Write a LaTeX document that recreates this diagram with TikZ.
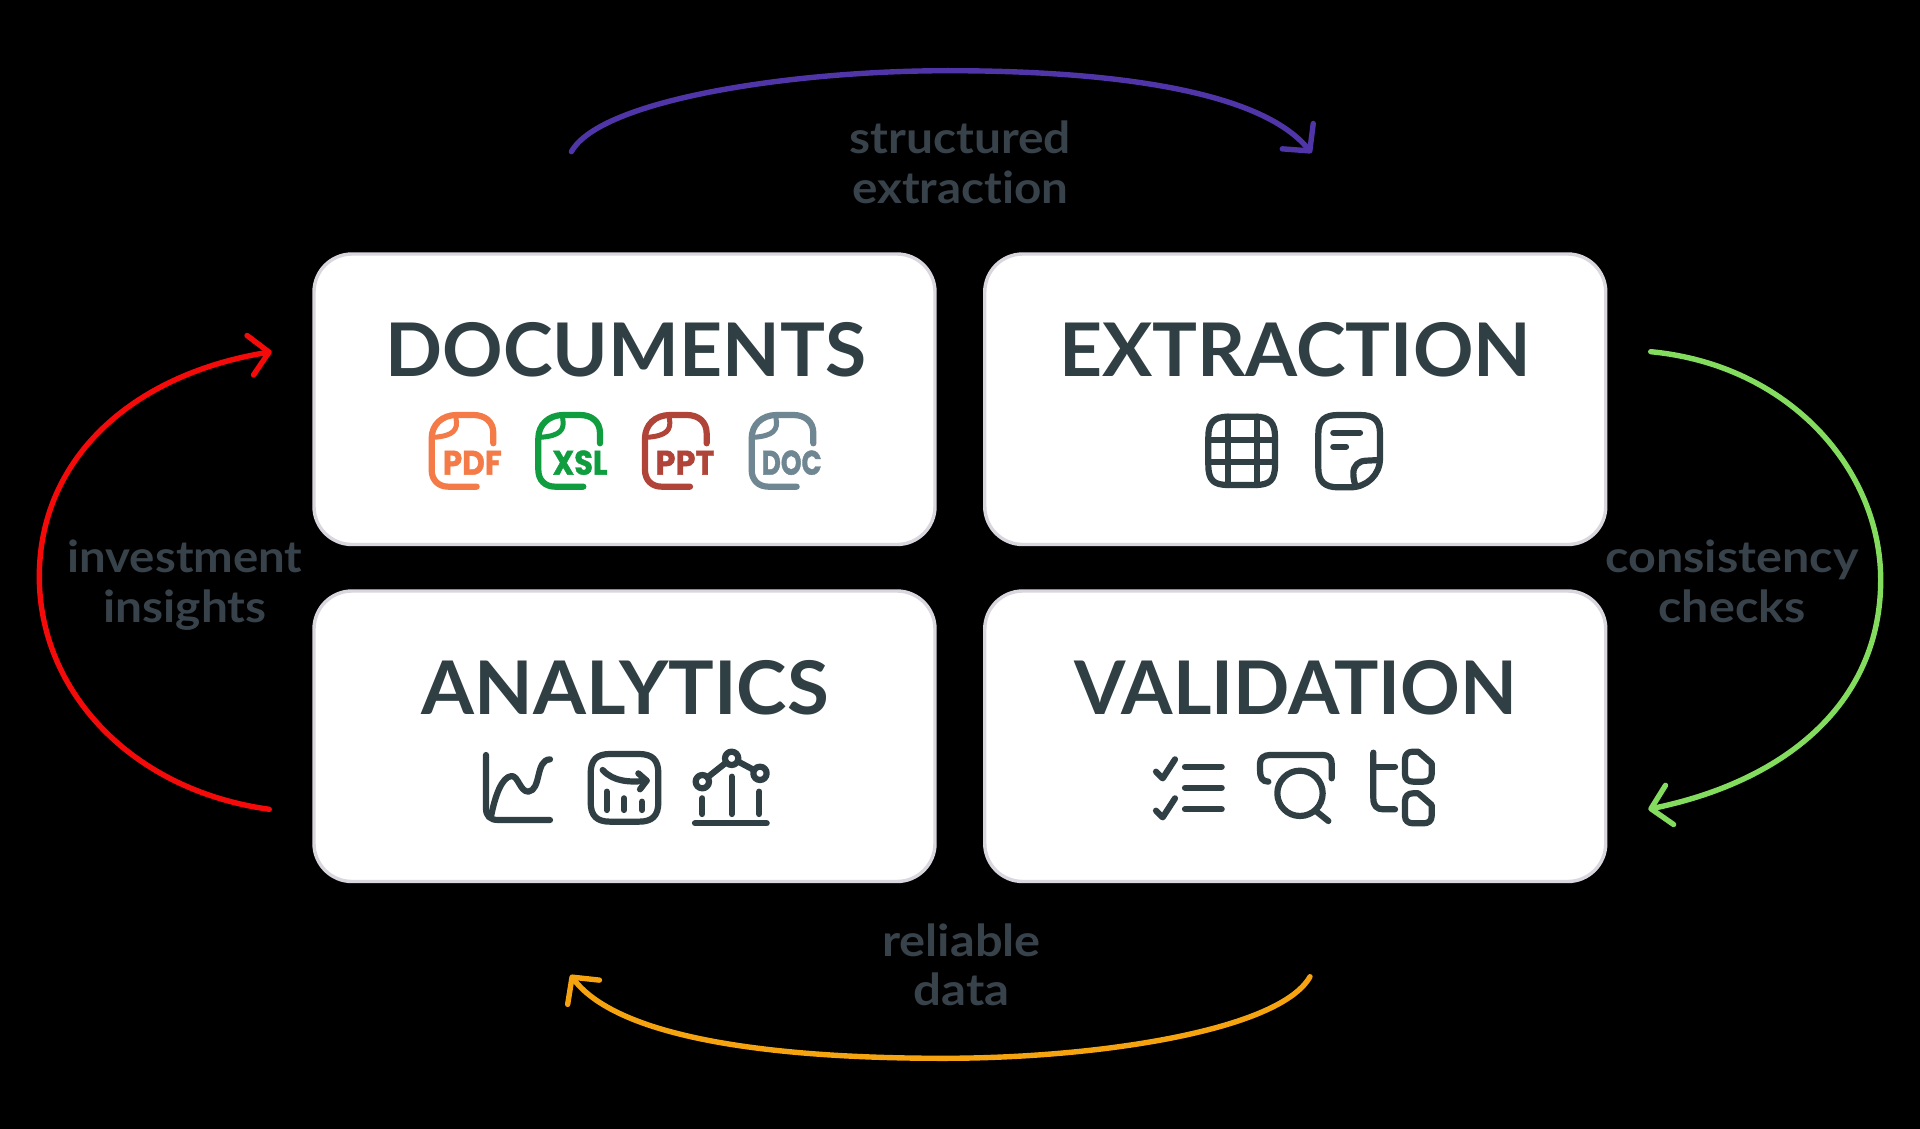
\documentclass[tikz,border=0pt]{standalone}
\usepackage{fontspec}
\usepackage{graphicx}
\usetikzlibrary{arrows.meta}
\setmainfont{Lato}[Ligatures=NoCommon]
\newfontfamily\iconfont{Poppins}[UprightFont={* Bold},FakeBold=1.3]
\definecolor{ink}{HTML}{2F3F43}
\definecolor{labelink}{HTML}{38424A}
\definecolor{cardedge}{HTML}{D9D6DE}
\definecolor{cpdf}{HTML}{F47B48}
\definecolor{cxsl}{HTML}{0F9D3F}
\definecolor{cppt}{HTML}{B04438}
\definecolor{cdoc}{HTML}{6F8793}
\definecolor{cpurple}{HTML}{5035A8}
\definecolor{cgreen}{HTML}{84DC5E}
\definecolor{corange}{HTML}{F5A30F}
\definecolor{cred}{HTML}{F50A0A}
\newcommand\fitw[2]{\resizebox{#1pt}{\height}{#2}}
\tikzset{
  card/.style={draw=cardedge,line width=3.4pt,fill=white,rounded corners=38pt,minimum width=621pt,minimum height=290.5pt,inner sep=0pt,outer sep=0pt},
  cardtitle/.style={anchor=base,inner sep=0pt,text=ink,font=\fontsize{74}{80}\selectfont\bfseries},
  flowlabel/.style={anchor=base,inner sep=0pt,text=labelink,font=\fontsize{44}{50}\selectfont\bfseries},
  filetext/.style={anchor=base,inner sep=0pt,font=\fontsize{34}{36}\selectfont\iconfont},
  flow/.style={line width=5.4pt,line cap=round},
  flowtip/.style={-{Straight Barb[length=19pt,width=40pt,line width=5.4pt,round]}},
  ico/.style={draw=ink,line width=6.2pt,line cap=round,line join=round},
  izone/.style={x=0.33333pt,y=-0.33333pt},
}
\newcommand\fileicon[6]{%
  \begin{scope}[shift={(#1,400)},izone]
    \draw[line width=6.2pt,line cap=round,line join=round,draw=#2]
      (220,130) -- (220,100) .. controls (220,65) and (195,45) .. (160,45) -- (110,45)
      .. controls (65,45) and (35,75) .. (35,115) -- (35,210)
      .. controls (35,240) and (55,260) .. (85,260) -- (170,260);
    \draw[line width=5pt,line cap=round,draw=#2]
      (108,55) .. controls (115,90) and (100,108) .. (40,112);
    \node[filetext,text=#2] (#3) at (#4,224) {\fitw{#5}{#6}};
  \end{scope}}
\begin{document}
\begin{tikzpicture}[x=1pt,y=-1pt]
\useasboundingbox (0,0) rectangle (1920,1129);
\fill[black] (0,0) rectangle (1920,1129);

% cards
\node[card] (doc) at (624.5,399.25) {};
\node[card] (ext) at (1295.25,399.25) {};
\node[card] (ana) at (624.5,736.25) {};
\node[card] (val) at (1295.25,736.25) {};

% titles
\node[cardtitle] (tdoc) at (626,376) {\fitw{480.6}{DOCUMENTS}};
\node[cardtitle] (text) at (1295.3,376) {\fitw{472}{EXTRACTION}};
\node[cardtitle] (tana) at (625.3,714) {\fitw{406.7}{ANALYTICS}};
\node[cardtitle] (tval) at (1296,714) {\fitw{443}{VALIDATION}};

% file icons
\fileicon{420}{cpdf}{ipdf}{157}{59}{PDF}
\fileicon{526.67}{cxsl}{ixsl}{160}{55}{XSL}
\fileicon{633.33}{cppt}{ippt}{155}{59}{PPT}
\fileicon{740}{cdoc}{idoc}{155}{60}{DOC}

% extraction icons
\begin{scope}[shift={(1190,400)},izone]
  \draw[ico] (55,110) .. controls (55,70) and (70,50) .. (115,50) -- (195,50)
    .. controls (240,50) and (255,70) .. (255,110) -- (255,195)
    .. controls (255,240) and (240,255) .. (195,255) -- (115,255)
    .. controls (70,255) and (55,240) .. (55,195) -- cycle;
  \draw[ico] (115,50) -- (115,255) (200,50) -- (200,255) (55,120) -- (255,120) (55,185) -- (255,185);
  \draw[ico] (570,175) -- (570,100) .. controls (570,60) and (550,45) .. (510,45) -- (445,45)
    .. controls (405,45) and (385,60) .. (385,100) -- (385,205)
    .. controls (385,245) and (405,262) .. (445,262) -- (480,262)
    .. controls (530,262) and (570,225) .. (570,175);
  \draw[ico] (568,180) -- (530,182) .. controls (505,182) and (490,198) .. (490,220) .. controls (490,240) and (495,250) .. (497,260);
  \draw[ico] (430,98) -- (510,98) (430,140) -- (468,140);
\end{scope}

% analytics icons
\begin{scope}[shift={(470,740)},izone]
  \draw[ico] (48,45) -- (48,205) .. controls (48,228) and (60,240) .. (85,240) -- (240,240);
  \draw[ico] (64,225) .. controls (75,170) and (95,110) .. (125,108)
    .. controls (145,108) and (150,155) .. (175,155)
    .. controls (215,150) and (195,60) .. (240,58);
  \draw[ico] (362,100) .. controls (362,60) and (380,42) .. (420,42) -- (507,42)
    .. controls (547,42) and (565,60) .. (565,100) -- (565,187)
    .. controls (565,227) and (547,245) .. (507,245) -- (420,245)
    .. controls (380,245) and (362,227) .. (362,187) -- cycle;
  \draw[ico] (398,90) .. controls (430,125) and (480,128) .. (530,122);
  \draw[ico] (505,100) -- (530,122) -- (510,148);
  \draw[ico] (410,155) -- (410,210) (462,175) -- (462,210) (516,185) -- (516,210);
  \draw[ico] (697,125) circle (20) (785,55) circle (20) (870,100) circle (20);
  \draw[ico] (715,110) -- (768,68) (805,65) -- (852,90);
  \draw[ico] (697,175) -- (697,222) (785,110) -- (785,222) (868,155) -- (868,222);
  \draw[ico] (675,250) -- (890,250);
\end{scope}

% validation icons
\begin{scope}[shift={(1140,740)},izone]
  \draw[ico] (48,95) -- (68,115) -- (105,58);
  \draw[ico] (48,212) -- (68,232) -- (105,175);
  \draw[ico] (135,80) -- (245,80) (135,143) -- (245,143) (135,208) -- (245,208);
  \draw[ico] (385,125) .. controls (365,125) and (360,110) .. (360,90) -- (360,70)
    .. controls (360,55) and (372,45) .. (390,45) -- (550,45)
    .. controls (565,45) and (575,55) .. (575,70) -- (575,115);
  \draw[ico] (480,160) circle (68);
  \draw[ico] (530,215) -- (565,243);
  \draw[ico] (700,38) -- (700,175) .. controls (700,197) and (710,208) .. (730,208) -- (765,208);
  \draw[ico] (700,80) -- (765,80);
  \draw[ico] (818,35) -- (835,35) -- (875,70) -- (875,103)
    .. controls (875,118) and (865,125) .. (850,125) -- (820,125)
    .. controls (805,125) and (795,118) .. (795,103) -- (795,58)
    .. controls (795,43) and (805,35) .. (818,35) -- cycle;
  \draw[ico] (818,160) -- (835,160) -- (875,195) -- (875,228)
    .. controls (875,243) and (865,250) .. (850,250) -- (820,250)
    .. controls (805,250) and (795,243) .. (795,228) -- (795,183)
    .. controls (795,168) and (805,160) .. (818,160) -- cycle;
\end{scope}

% labels
\node[flowlabel] (l1a) at (960.3,154) {\fitw{221.5}{structured}};
\node[flowlabel] (l1b) at (960.3,203.7) {\fitw{216}{extraction}};
\node[flowlabel] (l2a) at (1732,572.7) {\fitw{253}{consistency}};
\node[flowlabel] (l2b) at (1732,622.7) {\fitw{147}{checks}};
\node[flowlabel] (l3a) at (961.5,956) {\fitw{158.5}{reliable}};
\node[flowlabel] (l3b) at (961.5,1005.5) {\fitw{96}{data}};
\node[flowlabel] (l4a) at (185,572.7) {\fitw{235}{investment}};
\node[flowlabel] (l4b) at (185,622) {\fitw{163}{insights}};

% connector ends
\coordinate (p1) at (571.4,151.7);
\coordinate (p2) at (1311.5,153);
\coordinate (g1) at (1650.7,351.7);
\coordinate (g2) at (1648.3,809.3);
\coordinate (o1) at (1310,976.7);
\coordinate (o2) at (570.4,975);
\coordinate (r1) at (269.3,809.3);
\coordinate (r2) at (271.7,351.7);

\draw[flow,flowtip,draw=cpurple] (p1) .. controls (600,100) and (790,70.7) .. (948,70.7)
  .. controls (1110,70.7) and (1260,90) .. (p2);
\draw[flow,flowtip,draw=cgreen] (g1) .. controls (1790,365) and (1880.7,470) .. (1880.7,580)
  .. controls (1880.7,700) and (1790,780) .. (g2);
\draw[flow,flowtip,draw=corange] (o1) .. controls (1280,1030) and (1100,1058.3) .. (943,1058.3)
  .. controls (780,1058.3) and (620,1040) .. (o2);
\draw[flow,flowtip,draw=cred] (r1) .. controls (130,790) and (39.3,690) .. (39.3,576.7)
  .. controls (39.3,460) and (130,375) .. (r2);
\end{tikzpicture}
\end{document}
